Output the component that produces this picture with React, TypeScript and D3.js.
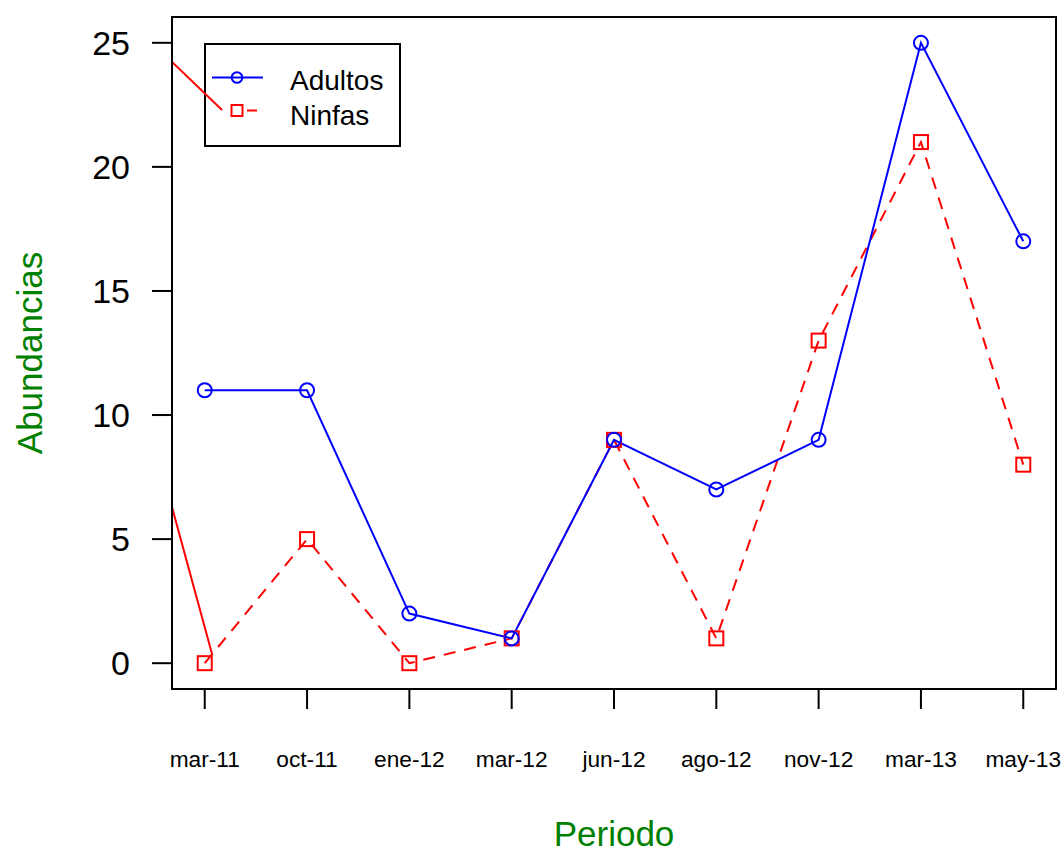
import React from "react";
import * as d3 from "d3";

const categories = ["mar-11", "oct-11", "ene-12", "mar-12", "jun-12", "ago-12", "nov-12", "mar-13", "may-13"];
const adultos = [11, 11, 2, 1, 9, 7, 9, 25, 17];
const ninfas = [0, 5, 0, 1, 9, 1, 13, 21, 8];
const yTicks = [0, 5, 10, 15, 20, 25];
// stray solid red segments in data units: [xIndexStart, yStart, xIndexEnd, yEnd]
const straySegments: [number, number, number, number][] = [
  [-0.32, 24.23, 0.169, 22.29],
  [-0.32, 6.29, 0.074, 0.33],
];
const legendItems = [
  { label: "Adultos", color: "#0000FF", shape: "circle", dashed: false },
  { label: "Ninfas", color: "#FF0000", shape: "square", dashed: true },
];

const W = 1064;
const H = 854;
const L = 172, R = 1056, T = 17, B = 689;
const FONT = "'Liberation Sans', Arial, Helvetica, sans-serif";
const GREEN = "#008000";
const LW = 2;

export default function App() {
  const x = d3.scaleLinear().domain([-0.32, 8.32]).range([L, R]);
  const y = d3.scaleLinear().domain([-1.04, 26.04]).range([B, T]);
  const line = d3.line<number>().x((_, i) => x(i)).y((d) => y(d));
  const seg = d3.line<[number, number]>().x((d) => x(d[0])).y((d) => y(d[1]));

  return (
    <svg width={W} height={H} style={{ position: "absolute", left: 0, top: 0, background: "#fff" }} fontFamily={FONT}>
      <defs>
        <clipPath id="plotclip">
          <rect x={L} y={T} width={R - L} height={B - T} />
        </clipPath>
      </defs>
      <rect x={0} y={0} width={W} height={H} fill="#fff" />

      {/* legend */}
      <rect x={205} y={44} width={195} height={102} fill="#fff" stroke="#000" strokeWidth={2} />
      {legendItems.map((it, i) => {
        const ly = 77.5 + i * 33;
        return (
          <g key={it.label}>
            {it.dashed ? (
              <line x1={247} x2={257} y1={ly} y2={ly} stroke={it.color} strokeWidth={LW} />
            ) : (
              <line x1={212} x2={263} y1={ly} y2={ly} stroke={it.color} strokeWidth={LW} />
            )}
            {it.shape === "circle" ? (
              <circle cx={237} cy={ly} r={5.3} fill="none" stroke={it.color} strokeWidth={LW} />
            ) : (
              <rect x={231.5} y={ly - 5.5} width={11} height={11} fill="none" stroke={it.color} strokeWidth={LW} />
            )}
            <text x={290} y={ly + 12 + i * 2} fontSize={28} fill="#000">{it.label}</text>
          </g>
        );
      })}

      {/* stray red lines */}
      <g clipPath="url(#plotclip)">
        {straySegments.map((s, i) => (
          <path key={i} d={seg([[s[0], s[1]], [s[2], s[3]]]) || ""} fill="none" stroke="#FF0000" strokeWidth={LW} />
        ))}
      </g>

      {/* series lines */}
      <path d={line(ninfas) || ""} fill="none" stroke="#FF0000" strokeWidth={LW} strokeDasharray="12,9" />
      <path d={line(adultos) || ""} fill="none" stroke="#0000FF" strokeWidth={LW} />

      {/* points */}
      {ninfas.map((v, i) => (
        <rect key={"n" + i} x={x(i) - 7} y={y(v) - 7} width={14} height={14} fill="none" stroke="#FF0000" strokeWidth={LW} />
      ))}
      {adultos.map((v, i) => (
        <circle key={"a" + i} cx={x(i)} cy={y(v)} r={7} fill="none" stroke="#0000FF" strokeWidth={LW} />
      ))}

      {/* box */}
      <rect x={L} y={T} width={R - L} height={B - T} fill="none" stroke="#000" strokeWidth={2} />

      {/* y axis */}
      {yTicks.map((t) => (
        <g key={"y" + t}>
          <line x1={L} x2={L - 20} y1={y(t)} y2={y(t)} stroke="#000" strokeWidth={2} />
          <text x={130} y={y(t)} dy="0.36em" textAnchor="end" fontSize={34} fill="#000">{t}</text>
        </g>
      ))}

      {/* x axis */}
      {categories.map((c, i) => (
        <g key={"x" + c}>
          <line x1={x(i)} x2={x(i)} y1={B} y2={B + 20} stroke="#000" strokeWidth={2} />
          <text x={x(i)} y={767} textAnchor="middle" fontSize={22.7} fill="#000">{c}</text>
        </g>
      ))}

      {/* axis titles */}
      <text x={(L + R) / 2} y={846} textAnchor="middle" fontSize={35} fill={GREEN}>Periodo</text>
      <text transform={`translate(42,${(T + B) / 2}) rotate(-90)`} textAnchor="middle" fontSize={35} fill={GREEN}>Abundancias</text>
    </svg>
  );
}
